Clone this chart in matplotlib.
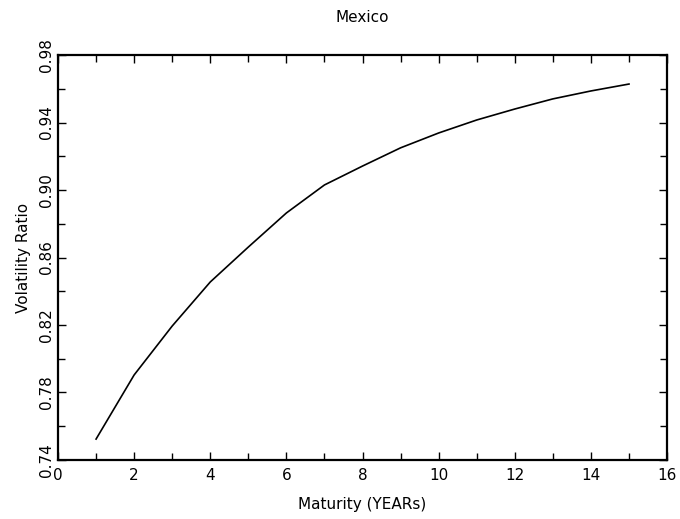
import numpy as np
import matplotlib
matplotlib.use('Agg')
import matplotlib.pyplot as plt
from matplotlib.ticker import MultipleLocator, FixedLocator

# maturity in years and the volatility ratio
maturity = [1, 2, 3, 4, 5, 6, 7, 8, 9, 10, 11, 12, 13, 14, 15]
vol_ratio = [0.7524, 0.7904, 0.8194, 0.8455, 0.8662, 0.8864, 0.9030,
             0.9142, 0.9250, 0.9338, 0.9415, 0.9480, 0.9540, 0.9587, 0.9628]

y_major = [0.74, 0.78, 0.82, 0.86, 0.90, 0.94, 0.98]
y_minor = [0.76, 0.80, 0.84, 0.88, 0.92, 0.96]

plt.rcParams['font.family'] = ['DejaVu Sans']

fig = plt.figure(figsize=(6.8, 5.19), dpi=100)
ax = fig.add_axes([0.0853, 0.1137, 0.8957, 0.7803])

ax.plot(maturity, vol_ratio, color='black', linewidth=1.2)

ax.set_xlim(0, 16)
ax.set_ylim(0.74, 0.98)
ax.xaxis.set_major_locator(MultipleLocator(2))
ax.xaxis.set_minor_locator(MultipleLocator(1))
ax.yaxis.set_major_locator(FixedLocator(y_major))
ax.yaxis.set_minor_locator(FixedLocator(y_minor))
ax.yaxis.set_major_formatter(plt.FormatStrFormatter('%.2f'))

ax.tick_params(which='both', direction='in', top=True, right=True,
               width=1, labelsize=11)
ax.tick_params(which='major', length=6)
ax.tick_params(which='minor', length=5)
ax.tick_params(axis='x', pad=6)
ax.tick_params(axis='y', pad=3)
for lab in ax.get_yticklabels():
    lab.set_rotation(90)
    lab.set_va('center')

for sp in ax.spines.values():
    sp.set_linewidth(1.6)

ax.set_title('Mexico', fontsize=11, pad=24)
ax.set_xlabel('Maturity (YEARs)', fontsize=11, labelpad=10)
ax.set_ylabel('Volatility Ratio', fontsize=11, labelpad=6)

fig.savefig('out.png', dpi=100)
